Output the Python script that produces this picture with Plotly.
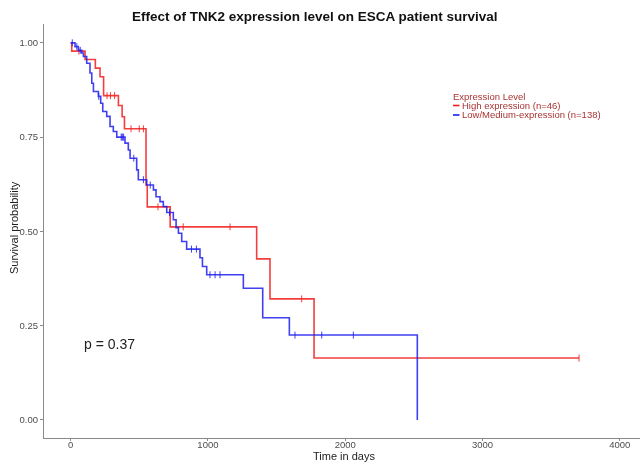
import numpy as np
import plotly.graph_objects as go

# ---- data ----
high_times = [0, 8, 105, 180, 214, 240, 348, 375, 392, 549, 558, 725, 1355, 1452, 1773, 3703]
high_surv = [1.0, 0.978, 0.956, 0.933, 0.910, 0.860, 0.834, 0.804, 0.772, 0.623, 0.565, 0.512, 0.427, 0.321, 0.164, 0.164]
high_censor = [60, 265, 290, 320, 440, 500, 530, 636, 820, 1161, 1683, 3703]

low_times = [0, 32, 56, 81, 93, 117, 141, 154, 166, 202, 219, 234, 263, 287, 311, 336,
             396, 420, 433, 481, 493, 554, 603, 622, 651, 675, 700, 748, 768, 785, 809,
             845, 942, 960, 991, 1258, 1399, 1593, 2525]
low_surv = [1.0, 0.990, 0.980, 0.973, 0.964, 0.946, 0.920, 0.893, 0.871, 0.858, 0.840, 0.818,
            0.805, 0.778, 0.765, 0.750, 0.734, 0.716, 0.694, 0.663, 0.637, 0.623, 0.610, 0.592,
            0.579, 0.566, 0.550, 0.531, 0.510, 0.495, 0.473, 0.453, 0.430, 0.407, 0.385,
            0.349, 0.271, 0.225, 0.0]
low_censor = [12, 45, 70, 205, 368, 374, 380, 386, 460, 530, 580, 720, 880, 916,
              1015, 1052, 1088, 1634, 1829, 2059]

series_names = ["High expression (n=46)", "Low/Medium-expression (n=138)"]
legend_title = "Expression Level"
p_text = "p = 0.37"
x_ticks = [0, 1000, 2000, 3000, 4000]
y_ticks = [0.0, 0.25, 0.5, 0.75, 1.0]
y_ticklabels = ["0.00", "0.25", "0.50", "0.75", "1.00"]

RED = "#f21d1d"
BLUE = "#1f1ff0"
LEG_COL = "#a83232"
FONT = "Liberation Sans, Arial, sans-serif"


def step_value(times, surv, t):
    idx = np.searchsorted(np.array(times), t, side="right") - 1
    return np.array(surv)[idx]


fig = go.Figure()
for times, surv, cens, col, name in [
    (high_times, high_surv, high_censor, RED, series_names[0]),
    (low_times, low_surv, low_censor, BLUE, series_names[1]),
]:
    fig.add_trace(go.Scatter(x=times, y=surv, mode="lines", line=dict(color=col, width=1.6, shape="hv"),
                             name=name, showlegend=False, opacity=0.85))
    fig.add_trace(go.Scatter(x=cens, y=step_value(times, surv, cens), mode="markers",
                             marker=dict(symbol="line-ns", size=5, line=dict(color=col, width=1)),
                             showlegend=False, hoverinfo="skip", opacity=0.85))

W, H = 640, 462
L, R, T, B = 44, 0, 24, 24
pw, ph = W - L - R, H - T - B


def px(x):
    return (x - L) / pw


def py(y):
    return (H - B - y) / ph


annotations = [
    dict(text="<b>Effect of TNK2 expression level on ESCA patient survival</b>", x=px(315), y=py(17),
         xref="paper", yref="paper", showarrow=False, xanchor="center", yanchor="middle",
         font=dict(size=13.5, color="#111111", family=FONT)),
    dict(text="Time in days", x=px(344), y=py(456), xref="paper", yref="paper", showarrow=False,
         xanchor="center", yanchor="middle", font=dict(size=11, color="#222222", family=FONT)),
    dict(text="Survival probability", x=px(14), y=py(228), xref="paper", yref="paper", showarrow=False,
         textangle=-90, xanchor="center", yanchor="middle", font=dict(size=11, color="#222222", family=FONT)),
    dict(text=p_text, x=81, y=0.2, xref="x", yref="y", showarrow=False, xanchor="left", yanchor="middle",
         font=dict(size=14, color="#222222", family=FONT)),
    dict(text=legend_title, x=px(451), y=py(96), xref="paper", yref="paper", showarrow=False,
         xanchor="left", yanchor="middle", font=dict(size=9.5, color=LEG_COL, family=FONT)),
    dict(text=series_names[0], x=px(460), y=py(105.5), xref="paper", yref="paper", showarrow=False,
         xanchor="left", yanchor="middle", font=dict(size=9.5, color=LEG_COL, family=FONT)),
    dict(text=series_names[1], x=px(460), y=py(115), xref="paper", yref="paper", showarrow=False,
         xanchor="left", yanchor="middle", font=dict(size=9.5, color=LEG_COL, family=FONT)),
]
shapes = [
    dict(type="line", xref="paper", yref="paper", x0=px(453), x1=px(459.5), y0=py(105.5), y1=py(105.5),
         line=dict(color=RED, width=1.6)),
    dict(type="line", xref="paper", yref="paper", x0=px(453), x1=px(459.5), y0=py(115), y1=py(115),
         line=dict(color=BLUE, width=1.6)),
]

fig.update_layout(
    width=W, height=H,
    margin=dict(l=L, r=R, t=T, b=B, pad=0),
    paper_bgcolor="white", plot_bgcolor="white",
    showlegend=False,
    font=dict(family=FONT, size=10, color="#4d4d4d"),
    annotations=annotations, shapes=shapes,
)
fig.update_xaxes(range=[-194, 4147], tickvals=x_ticks, showgrid=False, zeroline=False,
                 showline=True, linecolor="#8a8a8a", linewidth=1.2, ticks="outside", ticklen=2,
                 tickcolor="#8a8a8a", tickfont=dict(size=9.5, color="#4d4d4d"), automargin=False,
                 ticklabelstandoff=-5)
fig.update_yaxes(range=[-0.048, 1.05], tickvals=y_ticks, ticktext=y_ticklabels, showgrid=False, zeroline=False,
                 showline=True, linecolor="#8a8a8a", linewidth=1.2, ticks="outside", ticklen=3,
                 tickcolor="#8a8a8a", tickfont=dict(size=9.5, color="#4d4d4d"), automargin=False)

fig.write_html("out.html", config={"displayModeBar": False},
               post_script="document.body.style.margin='0';document.body.style.overflow='hidden';")
